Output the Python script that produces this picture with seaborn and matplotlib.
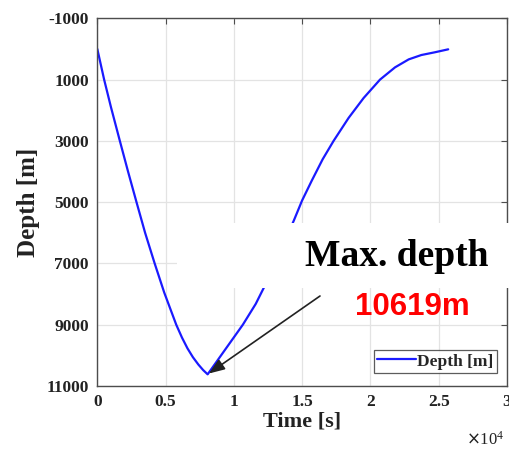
import matplotlib
matplotlib.use("Agg")
import matplotlib.pyplot as plt
import seaborn as sns
import pandas as pd
from matplotlib.patches import Rectangle

# Data (time in s, depth in m)
time_s = [0, 500, 1000, 1650, 2250, 2870, 3500, 4200, 4900, 5780, 6200, 6600, 7000, 7400, 7750, 8079,
          9300, 10655, 11600, 12600, 13500, 14389, 15000, 15700, 16500, 17300, 18400, 19500,
          20700, 21800, 22800, 23726, 24700, 25691]
depth_m = [0, 1000, 1900, 3000, 4000, 5000, 6000, 7000, 7950, 9000, 9420, 9770, 10060, 10300, 10480, 10619,
           9850, 9000, 8320, 7430, 6500, 5600, 4940, 4300, 3600, 3000, 2250, 1600,
           1000, 600, 340, 198, 110, 12]
x_ticks = [0, 5000, 10000, 15000, 20000, 25000, 30000]
x_tick_labels = ["0", "0.5", "1", "1.5", "2", "2.5", "3"]
y_ticks = [-1000, 1000, 3000, 5000, 7000, 9000, 11000]
max_depth_label = "10619m"
max_depth_time = 8079
max_depth_value = 10619

df = pd.DataFrame({"Time [s]": time_s, "Depth [m]": depth_m})

sns.set_theme(style="whitegrid")
plt.rcParams['font.family'] = ['Liberation Serif', 'DejaVu Serif']

fig = plt.figure(figsize=(5.1, 4.5), dpi=100)
ax = fig.add_axes([0.1908, 0.1422, 0.8034, 0.8171])

sns.lineplot(data=df, x="Time [s]", y="Depth [m]", ax=ax, color="#1a1aff",
             linewidth=1.6, sort=False, label="Depth [m]", estimator=None)

ax.set_xlim(0, 30000)
ax.set_ylim(11000, -1000)
ax.set_xticks(x_ticks)
ax.set_xticklabels(x_tick_labels)
ax.set_yticks(y_ticks)
ax.set_yticklabels([str(v) for v in y_ticks])

ax.grid(True, color="#e3e3e3", linewidth=0.9)
ax.set_facecolor("white")
for s in ax.spines.values():
    s.set_visible(True)
    s.set_color("#4d4d4d")
    s.set_linewidth(1.0)

ax.tick_params(axis="both", direction="in", length=4, width=0.8, color="#4d4d4d",
               labelsize=12.5, pad=6, right=True, top=True)
for lbl in ax.get_xticklabels() + ax.get_yticklabels():
    lbl.set_fontweight("bold")
    lbl.set_color("#222222")

ax.set_xlabel("Time [s]", fontsize=16, fontweight="bold", color="#222222", labelpad=1)
ax.set_ylabel("Depth [m]", fontsize=18, fontweight="bold", color="#222222", labelpad=5)

fig.text(485 / 510, 1 - 440 / 450, r"$\times\mathregular{10^{4}}$", fontsize=12, color="#222222",
         ha="center", va="center")

leg = ax.legend(loc="lower right", fontsize=12.5, frameon=True, fancybox=False,
                handlelength=2.2, borderpad=0.2, handletextpad=0.1, borderaxespad=0,
                bbox_to_anchor=(497 / 510, 1 - 373 / 450), bbox_transform=fig.transFigure)
leg.get_frame().set_edgecolor("#333333")
leg.get_frame().set_linewidth(0.9)
for t in leg.get_texts():
    t.set_fontweight("bold")

# White box behind the annotation title
fig.patches.append(Rectangle((177 / 510, 1 - 288 / 450), (510 - 177) / 510, 65 / 450,
                             transform=fig.transFigure, facecolor="white",
                             edgecolor="none", zorder=5))
fig.text(397 / 510, 1 - 257 / 450, "Max. depth", fontsize=27, fontweight="bold",
         ha="center", va="center", color="black", zorder=6)

ax.annotate("", xy=(max_depth_time, max_depth_value),
            xytext=(320 / 510, 1 - 296 / 450), textcoords="figure fraction",
            arrowprops=dict(arrowstyle="-|>,head_length=0.8,head_width=0.3",
                            color="#222222", lw=1.2, shrinkA=0, shrinkB=1))
fig.text(412 / 510, 1 - 307 / 450, max_depth_label, fontsize=22.5, fontweight="bold",
         family=["Liberation Sans", "DejaVu Sans"], color="#ff0000",
         ha="center", va="center", zorder=6)

fig.savefig("out.png", dpi=100)
